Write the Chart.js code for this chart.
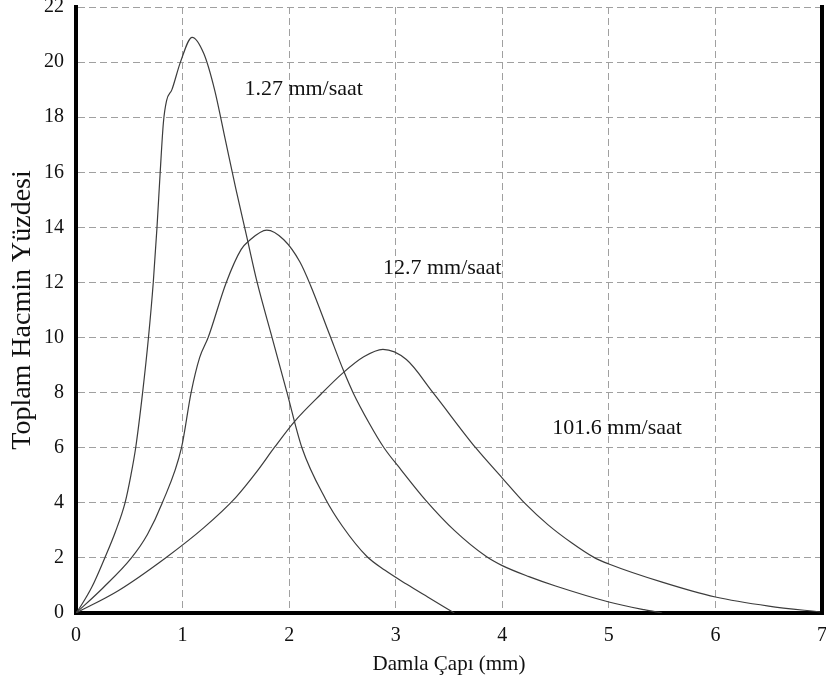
<!DOCTYPE html>
<html>
<head>
<meta charset="utf-8">
<script src="https://cdn.jsdelivr.net/npm/chart.js@4.4.1/dist/chart.umd.min.js"></script>
<style>
  html, body { margin: 0; padding: 0; background: #fff; }
  #wrap { width: 826px; height: 690px; }
</style>
</head>
<body>
<div id="wrap"><canvas id="dropChart" width="826" height="690"></canvas></div>
<script>
// series names (rain intensity)
const seriesNames = ["1.27 mm/saat", "12.7 mm/saat", "101.6 mm/saat"];

// 1.27 mm/saat
const dia1 = [0, 0.05, 0.15, 0.27, 0.37, 0.46, 0.515, 0.56, 0.625, 0.68, 0.725, 0.76, 0.79, 0.82, 0.85, 0.9, 0.98, 1.09, 1.2, 1.3, 1.4, 1.5, 1.6, 1.7, 1.84, 1.98, 2.12, 2.34, 2.5, 2.73, 2.9, 3.1, 3.3, 3.55];
const pct1 = [0, 0.28, 0.95, 2, 2.95, 4, 5, 6, 8, 10, 12, 14, 16, 17.8, 18.6, 19.0, 20, 20.9, 20.3, 19.0, 17.2, 15.4, 13.7, 12, 10, 8, 6, 4.15, 3.15, 2.05, 1.55, 1.05, 0.58, 0];

// 12.7 mm/saat
const dia2 = [0, 0.25, 0.52, 0.67, 0.81, 0.99, 1.08, 1.16, 1.24, 1.41, 1.55, 1.62, 1.79, 1.95, 2.1, 2.2, 2.38, 2.51, 2.6, 2.75, 2.89, 3.05, 3.28, 3.55, 3.85, 4.0, 4.25, 4.5, 5.0, 5.33, 5.5];
const pct2 = [0, 0.9, 2, 2.85, 4, 6, 8, 9.27, 10, 12, 13.2, 13.5, 13.9, 13.55, 12.75, 11.9, 10.1, 8.8, 8.0, 6.9, 6.0, 5.2, 4.1, 3.0, 2.05, 1.72, 1.32, 0.98, 0.4, 0.12, 0];

// 101.6 mm/saat
const dia3 = [0, 0.4, 0.84, 1.2, 1.5, 1.7, 1.86, 2.05, 2.3, 2.5, 2.7, 2.88, 3.1, 3.35, 3.75, 4.0, 4.22, 4.43, 4.65, 4.86, 5.0, 5.5, 6.0, 6.5, 7.0];
const pct3 = [0, 0.82, 2, 3.1, 4.2, 5.15, 6, 6.95, 7.95, 8.7, 9.3, 9.57, 9.2, 8, 6, 4.9, 3.95, 3.2, 2.55, 2.02, 1.78, 1.12, 0.58, 0.25, 0.03];

// axis ticks
const xTicks = [0, 1, 2, 3, 4, 5, 6, 7];
const yTicks = [0, 2, 4, 6, 8, 10, 12, 14, 16, 18, 20, 22];

const toPoints = (xs, ys) => xs.map((x, i) => ({ x: x, y: ys[i] }));

const serif = "'Liberation Serif', 'DejaVu Serif', serif";
const lineColor = "#3c3c3c";

// curve labels, placed in data units (left edge, middle)
const curveLabels = {
  id: "curveLabels",
  afterDatasetsDraw(chart) {
    const { ctx, scales } = chart;
    const spots = [
      { text: seriesNames[0], x: 1.58, y: 19.0 },
      { text: seriesNames[1], x: 2.88, y: 12.5 },
      { text: seriesNames[2], x: 4.47, y: 6.7 },
    ];
    ctx.save();
    ctx.fillStyle = "#111";
    ctx.font = "22px " + serif;
    ctx.textAlign = "left";
    ctx.textBaseline = "middle";
    spots.forEach((s) => {
      ctx.fillText(s.text, scales.x.getPixelForValue(s.x), scales.y.getPixelForValue(s.y));
    });
    ctx.restore();
  },
};

// thick frame on the right side
const rightFrame = {
  id: "rightFrame",
  afterDraw(chart) {
    const { ctx, chartArea } = chart;
    ctx.save();
    ctx.strokeStyle = "#000";
    ctx.lineWidth = 4;
    ctx.beginPath();
    ctx.moveTo(chartArea.right, chartArea.top - 2);
    ctx.lineTo(chartArea.right, chartArea.bottom + 2);
    ctx.stroke();
    ctx.restore();
  },
};

const ctx = document.getElementById("dropChart").getContext("2d");
new Chart(ctx, {
  type: "line",
  data: {
    datasets: [
      { label: seriesNames[0], data: toPoints(dia1, pct1) },
      { label: seriesNames[1], data: toPoints(dia2, pct2) },
      { label: seriesNames[2], data: toPoints(dia3, pct3) },
    ].map((d) => Object.assign(d, {
      borderColor: lineColor,
      borderWidth: 1.2,
      pointRadius: 0,
      fill: false,
      cubicInterpolationMode: "monotone",
    })),
  },
  options: {
    responsive: false,
    animation: false,
    layout: { padding: { top: 7, right: 4, left: 0, bottom: 0 } },
    plugins: { legend: { display: false }, tooltip: { enabled: false } },
    scales: {
      x: {
        type: "linear",
        min: 0,
        max: 7,
        afterBuildTicks: (scale) => { scale.ticks = xTicks.map((v) => ({ value: v })); },
        afterFit: (scale) => {
          scale.height = 77;
          scale.paddingLeft = 0;
          scale.paddingRight = 0;
        },
        ticks: {
          color: "#111",
          font: { family: serif, size: 20 },
          padding: 11,
          maxRotation: 0,
        },
        grid: { color: "#a0a0a0", lineWidth: 1, drawTicks: false },
        border: { color: "#000", width: 4, dash: [7, 4] },
        title: {
          display: true,
          text: "Damla Çapı (mm)",
          color: "#111",
          font: { family: serif, size: 21 },
          padding: { top: 0, bottom: 13 },
        },
      },
      y: {
        type: "linear",
        min: 0,
        max: 22,
        afterBuildTicks: (scale) => { scale.ticks = yTicks.map((v) => ({ value: v })); },
        afterFit: (scale) => {
          scale.width = 76;
          scale.paddingTop = 0;
          scale.paddingBottom = 0;
        },
        ticks: {
          color: "#111",
          font: { family: serif, size: 20 },
          padding: 12,
        },
        grid: { color: "#a0a0a0", lineWidth: 1, drawTicks: false },
        border: { color: "#000", width: 4, dash: [7, 4] },
        title: {
          display: true,
          text: "Toplam Hacmin Yüzdesi",
          color: "#111",
          font: { family: serif, size: 28 },
          padding: { top: 6, bottom: 0 },
        },
      },
    },
  },
  plugins: [curveLabels, rightFrame],
});
</script>
</body>
</html>
